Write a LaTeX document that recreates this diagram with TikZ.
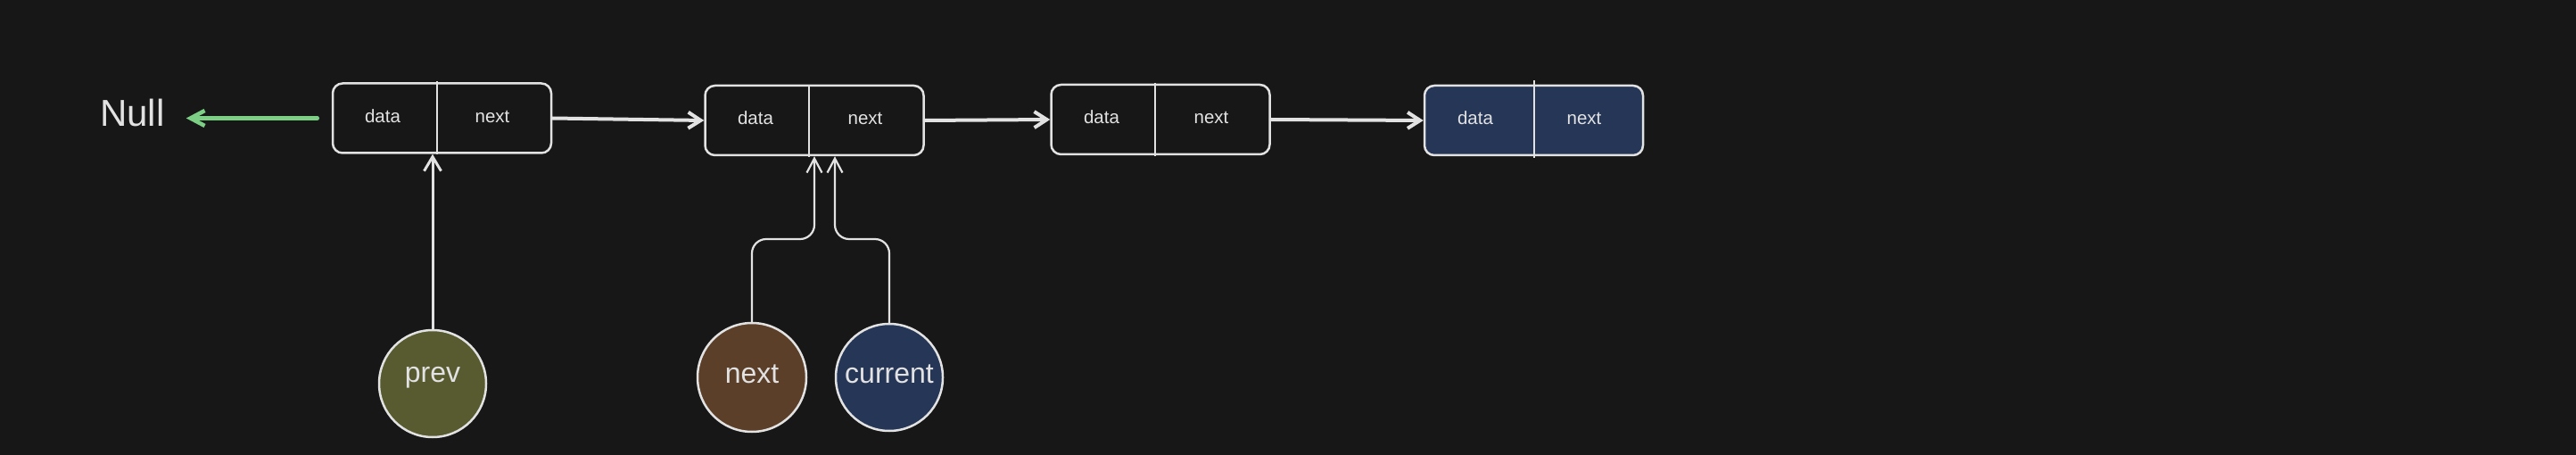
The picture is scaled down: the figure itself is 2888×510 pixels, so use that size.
\documentclass[tikz,border=0pt]{standalone}
\usepackage{fontspec}
\setmainfont{Liberation Sans}
\usetikzlibrary{arrows.meta}
\definecolor{bg}{HTML}{171717}
\definecolor{fg}{HTML}{E2E2E2}
\definecolor{olivec}{HTML}{585A30}
\definecolor{brownc}{HTML}{5C3F29}
\definecolor{navyc}{HTML}{263657}
\definecolor{grn}{HTML}{7CCF85}
\begin{document}
\begin{tikzpicture}[x=1pt,y=-1pt,
  nodebox/.style={draw=fg, line width=2.5pt, rounded corners=11pt, minimum width=245pt, minimum height=78pt, inner sep=0pt},
  divider/.style={draw=fg, line width=2pt},
  lbl/.style={text=fg, font=\fontsize{20.5}{24}\selectfont, inner sep=0pt, anchor=base},
  ptr/.style={circle, draw=fg, line width=2.5pt, minimum size=120pt, inner sep=0pt},
  ptrtxt/.style={text=fg, font=\fontsize{32}{38}\selectfont, inner sep=0pt, anchor=base},
  link/.style={draw=fg, line width=4pt, line cap=round, -{Straight Barb[length=14pt,width=18pt]}},
  garrow/.style={draw=grn, line width=4.5pt, line cap=round, -{Straight Barb[length=16pt,width=17pt]}},
  ptrarrow/.style={draw=fg, line width=2.2pt, line cap=round, rounded corners=16pt, -{Straight Barb[length=16pt,width=17pt]}},
]
\useasboundingbox (0,0) rectangle (2888,510);
\fill[bg] (0,0) rectangle (2888,510);

% list nodes
\node[nodebox] (b1) at (495.5,132.5) {};
\node[nodebox] (b2) at (913,135) {};
\node[nodebox] (b3) at (1301,134) {};
\node[nodebox, fill=navyc] (b4) at (1719.5,135) {};

\draw[divider] (490,91) -- (490,173);
\draw[divider] (907,95) -- (907,176);
\draw[divider] (1295,93) -- (1295,175);
\draw[divider] (1720,90) -- (1720,177);

\node[lbl] (d1) at (429,138) {data};
\node[lbl] (n1) at (552,138) {next};
\node[lbl] (d2) at (847,140) {data};
\node[lbl] (n2) at (970,140) {next};
\node[lbl] (d3) at (1235,139) {data};
\node[lbl] (n3) at (1358,139) {next};
\node[lbl] (d4) at (1654,140) {data};
\node[lbl] (n4) at (1776,140) {next};

% Null
\node[text=fg, font=\fontsize{42}{48}\selectfont, inner sep=0pt, anchor=base west] (null) at (112,142) {Null};

% links
\draw[link] (b1.east) -- (b2.west);
\draw[link] (b2.east) -- (b3.west);
\draw[link] (b3.east) -- (b4.west);
\draw[garrow, shorten <=16pt, shorten >=24pt] (b1.west) -- (null.east |- b1.west);

% pointers
\node[ptr, fill=olivec] (prev) at (485,430) {};
\node[ptr, fill=brownc, minimum size=122pt] (nextc) at (843,423) {};
\node[ptr, fill=navyc] (curc) at (997,423) {};
\node[ptrtxt] (tprev) at (485,428) {prev};
\node[ptrtxt] (tnext) at (843,429) {next};
\node[ptrtxt] (tcur) at (997,429) {current};

\draw[draw=fg, line width=3pt, line cap=round, -{Straight Barb[length=16pt,width=19pt]}] (prev.north) -- (prev.north |- b1.south);
\coordinate (nk) at (913,268);
\coordinate (ck) at (936,268);
\draw[ptrarrow] (nextc.north) |- (nk) -- (nk |- b2.south);
\draw[ptrarrow] (curc.north) |- (ck) -- (ck |- b2.south);
\end{tikzpicture}
\end{document}
